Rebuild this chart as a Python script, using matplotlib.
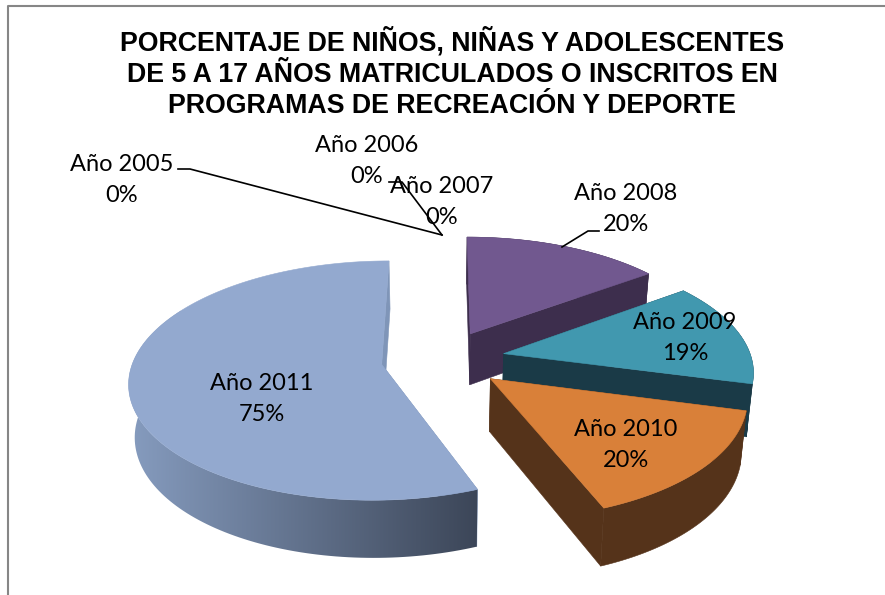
import numpy as np
import matplotlib
matplotlib.use("Agg")
import matplotlib.pyplot as plt
from matplotlib.patches import Polygon

years = ["Año 2005", "Año 2006", "Año 2007", "Año 2008", "Año 2009", "Año 2010", "Año 2011"]
values = [0, 0, 0, 20, 19, 20, 75]
top_colors = [None, None, None, "#71588f", "#4198af", "#d98039", "#93a9cf"]
wall_colors = [None, None, None, "#3d2e4d", "#1a3a47", "#55331a", "#7f95b8"]
label_pos = [(122, 180), (367, 161), (442, 202), (626, 209), (685, 338), (626, 445), (262, 399)]
draw_order = [3, 4, 6, 5]

title = ("PORCENTAJE DE NIÑOS, NIÑAS Y ADOLESCENTES\n"
         "DE 5 A 17 AÑOS MATRICULADOS O INSCRITOS EN\n"
         "PROGRAMAS DE RECREACIÓN Y DEPORTE")

# perspective of the pie, in pixels
cx, cy = 443, 359
fx, fy = 248, 116
persp = 0.134
persp_z = 0.02
depth = 53
explode = 0.25


def project(x, y, z=0.0):
    s = 1 / (1 + persp * y) / (1 + persp_z * z)
    return cx + fx * x * s, cy - fy * y * s + depth * z * s


def wall_points(pts_x, pts_y):
    top = [project(a, b, 0) for a, b in zip(pts_x, pts_y)]
    bottom = [project(a, b, 1) for a, b in zip(pts_x, pts_y)]
    return top + bottom[::-1]


def wall(ax, pts_x, pts_y, color, z):
    ax.add_patch(Polygon(wall_points(pts_x, pts_y), closed=True, facecolor=color,
                         edgecolor=color, lw=0.4, zorder=z))


fig = plt.figure(figsize=(8.85, 5.95), dpi=100)
ax = fig.add_axes([0, 0, 1, 1])

# chart frame, only top and left are in the picture
ax.plot([8, 8, 885], [595, 5.5, 5.5], color="#868686", lw=1.5, zorder=1)

# left to right shading used on the outer face of the big slice
shade = np.linspace(0, 1, 256)[None, :, None]
shade = (1 - shade) * np.array([0x86, 0x9c, 0xbf]) + shade * np.array([0x3c, 0x46, 0x58])

total = sum(values)
edges = np.concatenate([[0], np.cumsum(values)]) / total * 2 * np.pi

zorder = 2
for i in draw_order:
    a0, a1 = edges[i], edges[i + 1]
    mid = (a0 + a1) / 2
    ox, oy = explode * np.sin(mid), explode * np.cos(mid)
    t = np.linspace(a0, a1, 160)
    ex, ey = ox + np.sin(t), oy + np.cos(t)

    # the two cut faces
    wall(ax, [ox, ex[0]], [oy, ey[0]], wall_colors[i], zorder)
    wall(ax, [ox, ex[-1]], [oy, ey[-1]], wall_colors[i], zorder)
    zorder += 1

    if i == 6:
        # only the part of the rim that faces the viewer
        front = ey <= oy + 0.5
        patch = Polygon(wall_points(ex[front], ey[front]), closed=True, facecolor="none", edgecolor="none")
        ax.add_patch(patch)
        im = ax.imshow(shade / 255, extent=(128, 478, 595, 0), aspect="auto", zorder=zorder, interpolation="bilinear")
        im.set_clip_path(patch)
    else:
        wall(ax, ex, ey, wall_colors[i], zorder)
    zorder += 1

    outline = [project(ox, oy)] + [project(a, b) for a, b in zip(ex, ey)]
    ax.add_patch(Polygon(outline, closed=True, facecolor=top_colors[i], edgecolor=top_colors[i], lw=0.4, zorder=zorder))
    zorder += 1

# leader lines
ax.plot([178, 190, 442], [169, 169, 235], color="black", lw=1.2, zorder=30)
ax.plot([389, 402, 442], [182, 182, 235], color="black", lw=1.2, zorder=30)
ax.plot([562, 588, 599], [247, 231, 231], color="black", lw=1.2, zorder=30)

for name, val, (lx, ly) in zip(years, values, label_pos):
    ax.text(lx, ly, f"{name}\n{round(val)}%", ha="center", va="center", fontsize=17,
            family="Lato", linespacing=1.57, color="black", zorder=40)

ax.text(452, 73, title, ha="center", va="center", fontsize=19.25, fontweight="bold",
        family="Liberation Sans", linespacing=1.25, color="black", zorder=40)

ax.set_xlim(0, 885)
ax.set_ylim(595, 0)
ax.set_aspect("auto")
ax.axis("off")

fig.savefig("out.png", dpi=100)
